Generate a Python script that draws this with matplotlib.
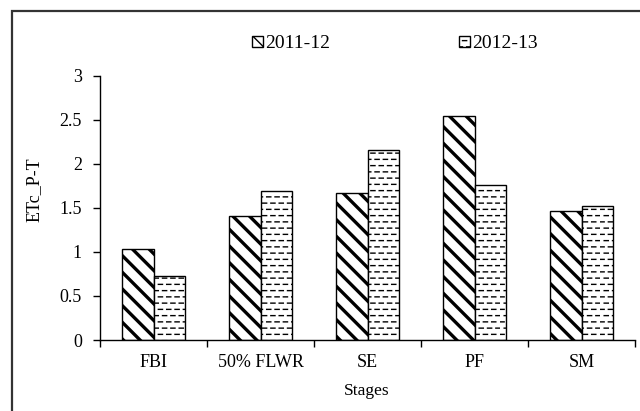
import matplotlib
matplotlib.use("Agg")
import matplotlib.pyplot as plt
import matplotlib.hatch as mhatch
from matplotlib.path import Path
from matplotlib.patches import Rectangle
import numpy as np

# data
stages = ["FBI", "50% FLWR", "SE", "PF", "SM"]
etc_2011 = [1.03, 1.41, 1.67, 2.54, 1.46]
etc_2012 = [0.73, 1.69, 2.16, 1.76, 1.52]
series_names = ["2011-12", "2012-13"]
yticks = [0, 0.5, 1, 1.5, 2, 2.5, 3]
ytick_labels = ["0", "0.5", "1", "1.5", "2", "2.5", "3"]


# Excel-like "dashed horizontal" pattern: staggered short dashes
class DashedHorizontalHatch(mhatch.HatchPatternBase):
    def __init__(self, hatch, density):
        self.num_rows = hatch.count('-') * 16
        self.num_cols = 12
        self.num_vertices = self.num_rows * self.num_cols * 2

    def set_vertices_and_codes(self, vertices, codes):
        step = 1.0 / self.num_cols
        k = 0
        for i in range(self.num_rows):
            y = (i + 0.5) / self.num_rows
            off = 0.0 if i % 2 == 0 else 0.5 * step
            for j in range(self.num_cols):
                vertices[k] = (j * step + off, y)
                vertices[k + 1] = (j * step + off + 0.5 * step, y)
                codes[k] = Path.MOVETO
                codes[k + 1] = Path.LINETO
                k += 2


mhatch._hatch_types = [DashedHorizontalHatch if t is mhatch.HorizontalHatch else t
                       for t in mhatch._hatch_types]

plt.rcParams['font.family'] = ['Liberation Serif', 'DejaVu Serif']
plt.rcParams['hatch.color'] = 'black'

fig = plt.figure(figsize=(6.4, 4.11), dpi=100)
ax = fig.add_axes([100 / 640, 1 - 340 / 411, 535 / 640, (340 - 75.7) / 411])

x = np.arange(len(stages))
w = 0.29
b1 = ax.bar(x - w / 2, etc_2011, w, color='white', edgecolor='black', linewidth=1.0,
            hatch='\\\\', label=series_names[0])
b2 = ax.bar(x + w / 2, etc_2012, w, color='white', edgecolor='black', linewidth=1.0,
            hatch='-', label=series_names[1])
for p in b1:
    if hasattr(p, 'set_hatch_linewidth'):
        p.set_hatch_linewidth(2.4)
for p in b2:
    if hasattr(p, 'set_hatch_linewidth'):
        p.set_hatch_linewidth(1.0)

ax.set_xlim(-0.5, len(stages) - 0.5)
ax.set_ylim(0, 3)
ax.set_yticks(yticks)
ax.set_yticklabels(ytick_labels)
ax.set_xticks(x)
ax.set_xticklabels(stages)
ax.set_xticks(np.arange(len(stages) + 1) - 0.5, minor=True)
ax.tick_params(axis='x', which='major', length=0, pad=10, labelsize=13)
ax.tick_params(axis='x', which='minor', length=5, width=1, direction='out')
ax.tick_params(axis='y', length=5, width=1, direction='out', pad=8, labelsize=13)
for s in ['top', 'right']:
    ax.spines[s].set_visible(False)
for s in ['left', 'bottom']:
    ax.spines[s].set_linewidth(1.0)

fig.text(367 / 640, 1 - 391 / 411, "Stages", ha='center', va='center', fontsize=12.5)
fig.text(34 / 640, 1 - 190 / 411, "ETc_P-T", ha='center', va='center',
         rotation=90, fontsize=13)

leg = fig.legend(handles=[b1, b2], labels=series_names, ncol=2, frameon=False,
                 loc='center left', bbox_to_anchor=(252 / 640, 1 - 44 / 411),
                 fontsize=14, handlelength=0.55, handleheight=0.55,
                 handletextpad=0.15, columnspacing=6.6, borderaxespad=0,
                 borderpad=0)

# outer chart frame (cut at the right/bottom like the reference)
fig.patches.append(Rectangle((12 / 640, -0.1), 1.2, 1 - 11 / 411 + 0.1,
                             transform=fig.transFigure, fill=False,
                             edgecolor='#333333', linewidth=1.6))

fig.savefig("out.png", dpi=100)
